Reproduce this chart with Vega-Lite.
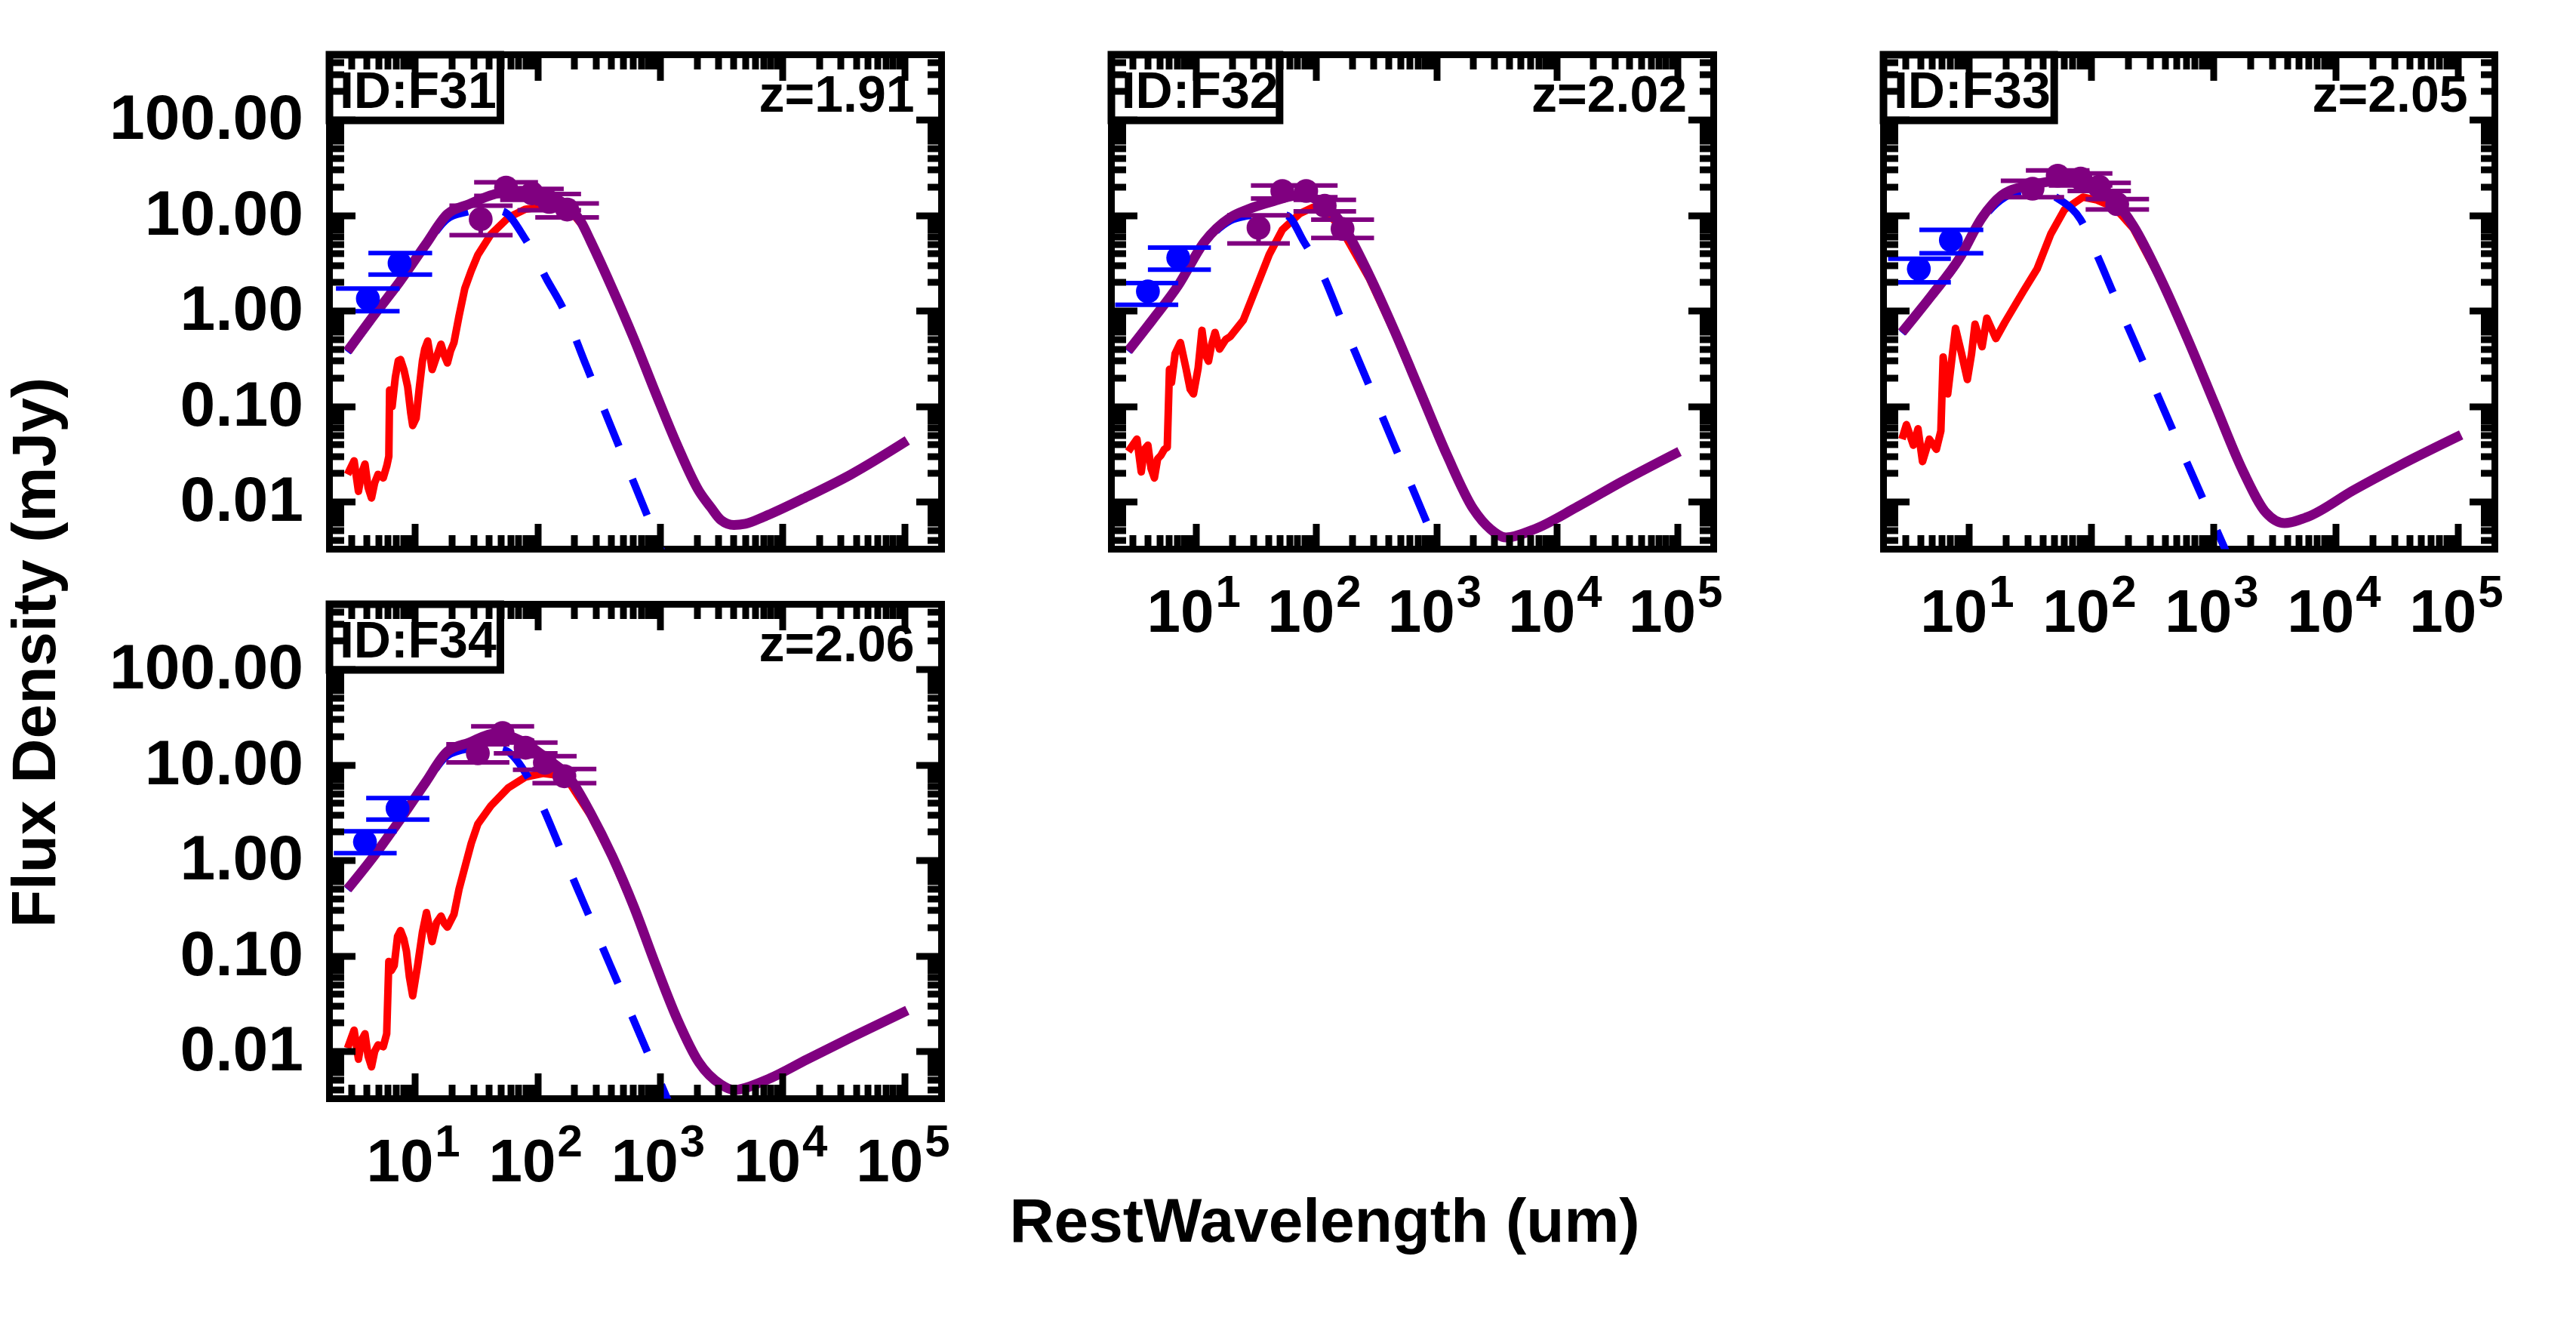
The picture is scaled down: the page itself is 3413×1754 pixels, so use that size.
{
"$schema": "https://vega.github.io/schema/vega-lite/v6.json",
"autosize": {"type": "none"},
"padding": {"left": 436.5, "top": 72.5, "right": 2976.5, "bottom": 1681.5},
"background": "white",
"config": {
  "view": {"stroke": "black", "strokeWidth": 9},
  "font": "Liberation Sans",
  "axis": {"labelFont": "Liberation Sans", "labelFontWeight": "bold", "labelColor": "black", "titleFont": "Liberation Sans", "titleFontWeight": "bold", "titleColor": "black", "tickColor": "black", "grid": false, "domain": false, "labelLimit": 0}
},
"datasets": {
"labels": [
 {"panel":"F31","id":"ID:F31","z":"z=1.91"},
 {"panel":"F32","id":"ID:F32","z":"z=2.02"},
 {"panel":"F33","id":"ID:F33","z":"z=2.05"},
 {"panel":"F34","id":"ID:F34","z":"z=2.06"}
],
"pts": [
 {"panel":"F31","band":"opt","lam":4.12,"flux":1.34,"lo":0.99,"hi":1.71,"xlo":2.26,"xhi":7.48},
 {"panel":"F31","band":"opt","lam":7.48,"flux":3.15,"lo":2.40,"hi":4.02,"xlo":4.16,"xhi":13.8},
 {"panel":"F31","band":"fir","lam":34.4,"flux":9.1,"lo":6.2,"hi":12.6,"xlo":19.1,"xhi":62.7},
 {"panel":"F31","band":"fir","lam":55.4,"flux":19.5,"lo":16.0,"hi":22.2,"xlo":30.4,"xhi":101},
 {"panel":"F31","band":"fir","lam":90.3,"flux":17.0,"lo":14.5,"hi":18.9,"xlo":49.6,"xhi":164},
 {"panel":"F31","band":"fir","lam":125,"flux":13.8,"lo":11.3,"hi":16.7,"xlo":68.7,"xhi":227},
 {"panel":"F31","band":"fir","lam":175,"flux":11.5,"lo":9.5,"hi":13.3,"xlo":96,"xhi":318},
 {"panel":"F32","band":"opt","lam":4.02,"flux":1.6,"lo":1.16,"hi":1.95,"xlo":2.15,"xhi":7.18},
 {"panel":"F32","band":"opt","lam":7.18,"flux":3.59,"lo":2.70,"hi":4.60,"xlo":4.02,"xhi":13.4},
 {"panel":"F32","band":"fir","lam":33.3,"flux":7.4,"lo":5.07,"hi":10.0,"xlo":18.3,"xhi":60.6},
 {"panel":"F32","band":"fir","lam":52.5,"flux":18.0,"lo":15.0,"hi":20.5,"xlo":28.8,"xhi":95.5},
 {"panel":"F32","band":"fir","lam":82.8,"flux":18.0,"lo":15.5,"hi":20.5,"xlo":45.5,"xhi":151},
 {"panel":"F32","band":"fir","lam":118,"flux":12.6,"lo":11.0,"hi":14.5,"xlo":65,"xhi":215},
 {"panel":"F32","band":"fir","lam":166,"flux":7.2,"lo":5.8,"hi":9.0,"xlo":91,"xhi":303},
 {"panel":"F33","band":"opt","lam":3.89,"flux":2.75,"lo":1.99,"hi":3.52,"xlo":2.18,"xhi":7.11},
 {"panel":"F33","band":"opt","lam":7.11,"flux":5.5,"lo":4.01,"hi":7.05,"xlo":3.93,"xhi":13.1},
 {"panel":"F33","band":"fir","lam":33.1,"flux":19.0,"lo":15.5,"hi":23.0,"xlo":18.2,"xhi":60},
 {"panel":"F33","band":"fir","lam":53.2,"flux":26.0,"lo":22.0,"hi":29.5,"xlo":29.2,"xhi":96.8},
 {"panel":"F33","band":"fir","lam":81.8,"flux":24.3,"lo":20.5,"hi":27.5,"xlo":45,"xhi":149},
 {"panel":"F33","band":"fir","lam":116,"flux":19.9,"lo":18.0,"hi":21.9,"xlo":64,"xhi":211},
 {"panel":"F33","band":"fir","lam":163,"flux":13.1,"lo":11.5,"hi":14.8,"xlo":90,"xhi":297},
 {"panel":"F34","band":"opt","lam":3.9,"flux":1.56,"lo":1.19,"hi":2.02,"xlo":2.17,"xhi":7.08},
 {"panel":"F34","band":"opt","lam":7.2,"flux":3.5,"lo":2.67,"hi":4.5,"xlo":3.99,"xhi":13.1},
 {"panel":"F34","band":"fir","lam":32.6,"flux":13.2,"lo":10.6,"hi":16.4,"xlo":18,"xhi":59},
 {"panel":"F34","band":"fir","lam":51.9,"flux":21.5,"lo":18.0,"hi":25.3,"xlo":28.7,"xhi":94},
 {"panel":"F34","band":"fir","lam":80,"flux":15.1,"lo":13.2,"hi":17.1,"xlo":44,"xhi":146},
 {"panel":"F34","band":"fir","lam":115,"flux":10.5,"lo":8.9,"hi":12.3,"xlo":63,"xhi":209},
 {"panel":"F34","band":"fir","lam":166,"flux":7.6,"lo":6.44,"hi":9.06,"xlo":91,"xhi":303}
],
"curves": [
 {"panel":"F31","comp":"tot","lam":2.81,"flux":0.378},{"panel":"F31","comp":"tot","lam":4.59,"flux":0.89},{"panel":"F31","comp":"tot","lam":7.48,"flux":2.01},{"panel":"F31","comp":"tot","lam":12.2,"flux":4.93},{"panel":"F31","comp":"tot","lam":18.4,"flux":10.3},{"panel":"F31","comp":"tot","lam":27.7,"flux":13.1},{"panel":"F31","comp":"tot","lam":45.1,"flux":16.7},{"panel":"F31","comp":"tot","lam":73.6,"flux":18.1},{"panel":"F31","comp":"tot","lam":120,"flux":16.1},{"panel":"F31","comp":"tot","lam":181,"flux":12.1},{"panel":"F31","comp":"tot","lam":230,"flux":8.3},{"panel":"F31","comp":"tot","lam":272,"flux":5.35},{"panel":"F31","comp":"tot","lam":409,"flux":1.71},{"panel":"F31","comp":"tot","lam":615,"flux":0.507},{"panel":"F31","comp":"tot","lam":925,"flux":0.137},{"panel":"F31","comp":"tot","lam":1390,"flux":0.0388},{"panel":"F31","comp":"tot","lam":2094,"flux":0.0129},{"panel":"F31","comp":"tot","lam":2600,"flux":0.0088},{"panel":"F31","comp":"tot","lam":3148,"flux":0.00647},{"panel":"F31","comp":"tot","lam":4022,"flux":0.00573},{"panel":"F31","comp":"tot","lam":5000,"flux":0.0059},{"panel":"F31","comp":"tot","lam":7110,"flux":0.0070},{"panel":"F31","comp":"tot","lam":16100,"flux":0.0114},{"panel":"F31","comp":"tot","lam":36500,"flux":0.0194},{"panel":"F31","comp":"tot","lam":105000,"flux":0.0439},
 {"panel":"F31","comp":"agn","lam":2.81,"flux":0.37},{"panel":"F31","comp":"agn","lam":4.59,"flux":0.86},{"panel":"F31","comp":"agn","lam":7.48,"flux":1.96},{"panel":"F31","comp":"agn","lam":12.2,"flux":4.75},{"panel":"F31","comp":"agn","lam":18.4,"flux":9.2},{"panel":"F31","comp":"agn","lam":25.5,"flux":10.7},{"panel":"F31","comp":"agn","lam":35,"flux":11.5},{"panel":"F31","comp":"agn","lam":51,"flux":11.1},{"panel":"F31","comp":"agn","lam":80,"flux":5.57},{"panel":"F31","comp":"agn","lam":120,"flux":2.1},{"panel":"F31","comp":"agn","lam":160,"flux":1.09},{"panel":"F31","comp":"agn","lam":251,"flux":0.264},{"panel":"F31","comp":"agn","lam":398,"flux":0.0618},{"panel":"F31","comp":"agn","lam":631,"flux":0.0145},{"panel":"F31","comp":"agn","lam":1000,"flux":0.0034},{"panel":"F31","comp":"agn","lam":1585,"flux":0.00079},
 {"panel":"F31","comp":"sb","lam":2.81,"flux":0.0194},{"panel":"F31","comp":"sb","lam":3.18,"flux":0.0269},{"panel":"F31","comp":"sb","lam":3.45,"flux":0.0129},{"panel":"F31","comp":"sb","lam":3.67,"flux":0.020},{"panel":"F31","comp":"sb","lam":3.90,"flux":0.0249},{"panel":"F31","comp":"sb","lam":4.14,"flux":0.0141},{"panel":"F31","comp":"sb","lam":4.41,"flux":0.011},{"panel":"F31","comp":"sb","lam":4.68,"flux":0.0158},{"panel":"F31","comp":"sb","lam":4.99,"flux":0.0194},{"panel":"F31","comp":"sb","lam":5.50,"flux":0.0178},{"panel":"F31","comp":"sb","lam":5.89,"flux":0.024},{"panel":"F31","comp":"sb","lam":6.11,"flux":0.03},{"panel":"F31","comp":"sb","lam":6.2,"flux":0.148},{"panel":"F31","comp":"sb","lam":6.5,"flux":0.1},{"panel":"F31","comp":"sb","lam":6.9,"flux":0.2},{"panel":"F31","comp":"sb","lam":7.3,"flux":0.3},{"panel":"F31","comp":"sb","lam":7.62,"flux":0.309},{"panel":"F31","comp":"sb","lam":8.13,"flux":0.24},{"panel":"F31","comp":"sb","lam":8.71,"flux":0.16},{"panel":"F31","comp":"sb","lam":9.23,"flux":0.085},{"panel":"F31","comp":"sb","lam":9.57,"flux":0.063},{"panel":"F31","comp":"sb","lam":10.2,"flux":0.075},{"panel":"F31","comp":"sb","lam":10.8,"flux":0.15},{"panel":"F31","comp":"sb","lam":11.5,"flux":0.3},{"panel":"F31","comp":"sb","lam":12.0,"flux":0.398},{"panel":"F31","comp":"sb","lam":12.7,"flux":0.484},{"panel":"F31","comp":"sb","lam":13.2,"flux":0.355},{"panel":"F31","comp":"sb","lam":13.8,"flux":0.243},{"panel":"F31","comp":"sb","lam":14.8,"flux":0.316},{"panel":"F31","comp":"sb","lam":16.3,"flux":0.447},{"panel":"F31","comp":"sb","lam":17.4,"flux":0.339},{"panel":"F31","comp":"sb","lam":18.4,"flux":0.285},{"panel":"F31","comp":"sb","lam":19.5,"flux":0.38},{"panel":"F31","comp":"sb","lam":20.8,"flux":0.466},{"panel":"F31","comp":"sb","lam":22.9,"flux":0.89},{"panel":"F31","comp":"sb","lam":25.5,"flux":1.71},{"panel":"F31","comp":"sb","lam":28.8,"flux":2.63},{"panel":"F31","comp":"sb","lam":32.6,"flux":3.86},{"panel":"F31","comp":"sb","lam":41.6,"flux":6.3},{"panel":"F31","comp":"sb","lam":57.7,"flux":9.46},{"panel":"F31","comp":"sb","lam":80,"flux":11.6},{"panel":"F31","comp":"sb","lam":102,"flux":12.1},{"panel":"F31","comp":"sb","lam":126,"flux":12.0},{"panel":"F31","comp":"sb","lam":158,"flux":11.9},{"panel":"F31","comp":"sb","lam":181,"flux":11.6},{"panel":"F31","comp":"sb","lam":230,"flux":8.0},{"panel":"F31","comp":"sb","lam":272,"flux":5.2},{"panel":"F31","comp":"sb","lam":409,"flux":1.67},{"panel":"F31","comp":"sb","lam":615,"flux":0.495},{"panel":"F31","comp":"sb","lam":925,"flux":0.133},

 {"panel":"F32","comp":"tot","lam":2.76,"flux":0.381},{"panel":"F32","comp":"tot","lam":4.36,"flux":0.798},{"panel":"F32","comp":"tot","lam":7.18,"flux":1.85},{"panel":"F32","comp":"tot","lam":11.8,"flux":5.24},{"panel":"F32","comp":"tot","lam":19.4,"flux":9.48},{"panel":"F32","comp":"tot","lam":27.0,"flux":11.5},{"panel":"F32","comp":"tot","lam":44.5,"flux":14.1},{"panel":"F32","comp":"tot","lam":73.1,"flux":16.3},{"panel":"F32","comp":"tot","lam":120,"flux":12.7},{"panel":"F32","comp":"tot","lam":168,"flux":7.76},{"panel":"F32","comp":"tot","lam":276,"flux":2.37},{"panel":"F32","comp":"tot","lam":454,"flux":0.594},{"panel":"F32","comp":"tot","lam":746,"flux":0.135},{"panel":"F32","comp":"tot","lam":1227,"flux":0.0306},{"panel":"F32","comp":"tot","lam":2018,"flux":0.00847},{"panel":"F32","comp":"tot","lam":2818,"flux":0.00516},{"panel":"F32","comp":"tot","lam":3770,"flux":0.00424},{"panel":"F32","comp":"tot","lam":6460,"flux":0.00516},{"panel":"F32","comp":"tot","lam":14800,"flux":0.0089},{"panel":"F32","comp":"tot","lam":34000,"flux":0.0161},{"panel":"F32","comp":"tot","lam":104000,"flux":0.0337},
 {"panel":"F32","comp":"agn","lam":2.76,"flux":0.375},{"panel":"F32","comp":"agn","lam":4.36,"flux":0.785},{"panel":"F32","comp":"agn","lam":7.18,"flux":1.8},{"panel":"F32","comp":"agn","lam":11.8,"flux":5.0},{"panel":"F32","comp":"agn","lam":19.4,"flux":8.8},{"panel":"F32","comp":"agn","lam":27,"flux":9.9},{"panel":"F32","comp":"agn","lam":40,"flux":10.4},{"panel":"F32","comp":"agn","lam":57.1,"flux":9.95},{"panel":"F32","comp":"agn","lam":79.6,"flux":5.24},{"panel":"F32","comp":"agn","lam":116,"flux":2.26},{"panel":"F32","comp":"agn","lam":158,"flux":0.877},{"panel":"F32","comp":"agn","lam":251,"flux":0.22},{"panel":"F32","comp":"agn","lam":398,"flux":0.0553},{"panel":"F32","comp":"agn","lam":631,"flux":0.0139},{"panel":"F32","comp":"agn","lam":1000,"flux":0.00349},{"panel":"F32","comp":"agn","lam":1585,"flux":0.00088},
 {"panel":"F32","comp":"sb","lam":2.76,"flux":0.0337},{"panel":"F32","comp":"sb","lam":3.26,"flux":0.0454},{"panel":"F32","comp":"sb","lam":3.54,"flux":0.0206},{"panel":"F32","comp":"sb","lam":3.76,"flux":0.0355},{"panel":"F32","comp":"sb","lam":4.02,"flux":0.0392},{"panel":"F32","comp":"sb","lam":4.27,"flux":0.0224},{"panel":"F32","comp":"sb","lam":4.55,"flux":0.0178},{"panel":"F32","comp":"sb","lam":4.84,"flux":0.0282},{"panel":"F32","comp":"sb","lam":5.15,"flux":0.0306},{"panel":"F32","comp":"sb","lam":5.50,"flux":0.0355},{"panel":"F32","comp":"sb","lam":5.82,"flux":0.0373},{"panel":"F32","comp":"sb","lam":6.07,"flux":0.244},{"panel":"F32","comp":"sb","lam":6.31,"flux":0.178},{"panel":"F32","comp":"sb","lam":6.76,"flux":0.355},{"panel":"F32","comp":"sb","lam":7.48,"flux":0.465},{"panel":"F32","comp":"sb","lam":8.32,"flux":0.251},{"panel":"F32","comp":"sb","lam":9.02,"flux":0.151},{"panel":"F32","comp":"sb","lam":9.6,"flux":0.135},{"panel":"F32","comp":"sb","lam":10.5,"flux":0.251},{"panel":"F32","comp":"sb","lam":11.3,"flux":0.625},{"panel":"F32","comp":"sb","lam":12.0,"flux":0.355},{"panel":"F32","comp":"sb","lam":12.8,"flux":0.297},{"panel":"F32","comp":"sb","lam":13.6,"flux":0.447},{"panel":"F32","comp":"sb","lam":14.5,"flux":0.594},{"panel":"F32","comp":"sb","lam":15.8,"flux":0.398},{"panel":"F32","comp":"sb","lam":17.8,"flux":0.501},{"panel":"F32","comp":"sb","lam":19.4,"flux":0.538},{"panel":"F32","comp":"sb","lam":24.9,"flux":0.798},{"panel":"F32","comp":"sb","lam":31.9,"flux":1.76},{"panel":"F32","comp":"sb","lam":40.9,"flux":3.89},{"panel":"F32","comp":"sb","lam":52.5,"flux":7.05},{"panel":"F32","comp":"sb","lam":73.1,"flux":10.4},{"panel":"F32","comp":"sb","lam":94,"flux":12.1},{"panel":"F32","comp":"sb","lam":120,"flux":11.2},{"panel":"F32","comp":"sb","lam":158,"flux":7.6},{"panel":"F32","comp":"sb","lam":276,"flux":2.2},{"panel":"F32","comp":"sb","lam":454,"flux":0.57},{"panel":"F32","comp":"sb","lam":746,"flux":0.13},

 {"panel":"F33","comp":"tot","lam":2.83,"flux":0.594},{"panel":"F33","comp":"tot","lam":4.95,"flux":1.45},{"panel":"F33","comp":"tot","lam":8.32,"flux":3.52},{"panel":"F33","comp":"tot","lam":12.8,"flux":9.48},{"panel":"F33","comp":"tot","lam":19.7,"flux":17.1},{"panel":"F33","comp":"tot","lam":33.1,"flux":20.9},{"panel":"F33","comp":"tot","lam":55.5,"flux":23.0},{"panel":"F33","comp":"tot","lam":93.1,"flux":20.9},{"panel":"F33","comp":"tot","lam":156,"flux":14.1},{"panel":"F33","comp":"tot","lam":221,"flux":7.76},{"panel":"F33","comp":"tot","lam":371,"flux":2.15},{"panel":"F33","comp":"tot","lam":622,"flux":0.488},{"panel":"F33","comp":"tot","lam":1042,"flux":0.1},{"panel":"F33","comp":"tot","lam":1754,"flux":0.0206},{"panel":"F33","comp":"tot","lam":2698,"flux":0.00767},{"panel":"F33","comp":"tot","lam":3810,"flux":0.006},{"panel":"F33","comp":"tot","lam":5860,"flux":0.00695},{"panel":"F33","comp":"tot","lam":13900,"flux":0.0132},{"panel":"F33","comp":"tot","lam":33000,"flux":0.0239},{"panel":"F33","comp":"tot","lam":106000,"flux":0.0502},
 {"panel":"F33","comp":"agn","lam":2.83,"flux":0.585},{"panel":"F33","comp":"agn","lam":4.95,"flux":1.43},{"panel":"F33","comp":"agn","lam":8.32,"flux":3.4},{"panel":"F33","comp":"agn","lam":12.8,"flux":9.0},{"panel":"F33","comp":"agn","lam":19.7,"flux":15.5},{"panel":"F33","comp":"agn","lam":28,"flux":17.8},{"panel":"F33","comp":"agn","lam":40,"flux":17.5},{"panel":"F33","comp":"agn","lam":55.5,"flux":14.5},{"panel":"F33","comp":"agn","lam":81.8,"flux":9.02},{"panel":"F33","comp":"agn","lam":111,"flux":3.89},{"panel":"F33","comp":"agn","lam":158,"flux":1.35},{"panel":"F33","comp":"agn","lam":251,"flux":0.347},{"panel":"F33","comp":"agn","lam":398,"flux":0.0891},{"panel":"F33","comp":"agn","lam":631,"flux":0.0229},{"panel":"F33","comp":"agn","lam":1000,"flux":0.00603},{"panel":"F33","comp":"agn","lam":1585,"flux":0.00158},
 {"panel":"F33","comp":"sb","lam":2.83,"flux":0.0454},{"panel":"F33","comp":"sb","lam":3.08,"flux":0.0643},{"panel":"F33","comp":"sb","lam":3.51,"flux":0.0392},{"panel":"F33","comp":"sb","lam":3.83,"flux":0.0582},{"panel":"F33","comp":"sb","lam":4.17,"flux":0.0264},{"panel":"F33","comp":"sb","lam":4.74,"flux":0.0454},{"panel":"F33","comp":"sb","lam":5.41,"flux":0.0355},{"panel":"F33","comp":"sb","lam":5.89,"flux":0.0553},{"panel":"F33","comp":"sb","lam":6.15,"flux":0.329},{"panel":"F33","comp":"sb","lam":6.70,"flux":0.135},{"panel":"F33","comp":"sb","lam":7.76,"flux":0.656},{"panel":"F33","comp":"sb","lam":8.71,"flux":0.355},{"panel":"F33","comp":"sb","lam":9.7,"flux":0.191},{"panel":"F33","comp":"sb","lam":10.5,"flux":0.355},{"panel":"F33","comp":"sb","lam":11.2,"flux":0.724},{"panel":"F33","comp":"sb","lam":12.8,"flux":0.421},{"panel":"F33","comp":"sb","lam":14.0,"flux":0.839},{"panel":"F33","comp":"sb","lam":16.6,"flux":0.513},{"panel":"F33","comp":"sb","lam":19.7,"flux":0.762},{"panel":"F33","comp":"sb","lam":27.8,"flux":1.6},{"panel":"F33","comp":"sb","lam":36.1,"flux":2.75},{"panel":"F33","comp":"sb","lam":46.7,"flux":6.37},{"panel":"F33","comp":"sb","lam":60.5,"flux":11.5},{"panel":"F33","comp":"sb","lam":85.5,"flux":15.5},{"panel":"F33","comp":"sb","lam":111,"flux":14.5},{"panel":"F33","comp":"sb","lam":156,"flux":12.0},{"panel":"F33","comp":"sb","lam":221,"flux":7.3},{"panel":"F33","comp":"sb","lam":371,"flux":2.1},{"panel":"F33","comp":"sb","lam":622,"flux":0.48},{"panel":"F33","comp":"sb","lam":1042,"flux":0.098},

 {"panel":"F34","comp":"tot","lam":2.81,"flux":0.5},{"panel":"F34","comp":"tot","lam":4.59,"flux":1.10},{"panel":"F34","comp":"tot","lam":7.48,"flux":2.62},{"panel":"F34","comp":"tot","lam":12.2,"flux":6.56},{"panel":"F34","comp":"tot","lam":18.4,"flux":13.8},{"panel":"F34","comp":"tot","lam":27.7,"flux":17.1},{"panel":"F34","comp":"tot","lam":45.1,"flux":21.3},{"panel":"F34","comp":"tot","lam":73.6,"flux":17.9},{"panel":"F34","comp":"tot","lam":120,"flux":11.6},{"panel":"F34","comp":"tot","lam":181,"flux":7.46},{"panel":"F34","comp":"tot","lam":272,"flux":3.12},{"panel":"F34","comp":"tot","lam":409,"flux":1.10},{"panel":"F34","comp":"tot","lam":615,"flux":0.324},{"panel":"F34","comp":"tot","lam":925,"flux":0.0802},{"panel":"F34","comp":"tot","lam":1390,"flux":0.0216},{"panel":"F34","comp":"tot","lam":2094,"flux":0.0076},{"panel":"F34","comp":"tot","lam":3148,"flux":0.00451},{"panel":"F34","comp":"tot","lam":4020,"flux":0.00395},{"panel":"F34","comp":"tot","lam":7110,"flux":0.00492},{"panel":"F34","comp":"tot","lam":16100,"flux":0.0083},{"panel":"F34","comp":"tot","lam":36500,"flux":0.014},{"panel":"F34","comp":"tot","lam":105000,"flux":0.0269},
 {"panel":"F34","comp":"agn","lam":2.81,"flux":0.495},{"panel":"F34","comp":"agn","lam":4.59,"flux":1.08},{"panel":"F34","comp":"agn","lam":7.48,"flux":2.55},{"panel":"F34","comp":"agn","lam":12.2,"flux":6.3},{"panel":"F34","comp":"agn","lam":18.4,"flux":12.5},{"panel":"F34","comp":"agn","lam":27.7,"flux":14.8},{"panel":"F34","comp":"agn","lam":38,"flux":15.3},{"panel":"F34","comp":"agn","lam":53.2,"flux":14.4},{"panel":"F34","comp":"agn","lam":83.6,"flux":7.46},{"panel":"F34","comp":"agn","lam":111,"flux":3.56},{"panel":"F34","comp":"agn","lam":158,"flux":1.22},{"panel":"F34","comp":"agn","lam":251,"flux":0.306},{"panel":"F34","comp":"agn","lam":398,"flux":0.0769},{"panel":"F34","comp":"agn","lam":631,"flux":0.0193},{"panel":"F34","comp":"agn","lam":1000,"flux":0.00485},{"panel":"F34","comp":"agn","lam":1585,"flux":0.00122},
 {"panel":"F34","comp":"sb","lam":2.81,"flux":0.0108},{"panel":"F34","comp":"sb","lam":3.18,"flux":0.0167},{"panel":"F34","comp":"sb","lam":3.45,"flux":0.0083},{"panel":"F34","comp":"sb","lam":3.67,"flux":0.0132},{"panel":"F34","comp":"sb","lam":3.90,"flux":0.0153},{"panel":"F34","comp":"sb","lam":4.14,"flux":0.0089},{"panel":"F34","comp":"sb","lam":4.41,"flux":0.0069},{"panel":"F34","comp":"sb","lam":4.68,"flux":0.01},{"panel":"F34","comp":"sb","lam":4.99,"flux":0.0117},{"panel":"F34","comp":"sb","lam":5.50,"flux":0.0112},{"panel":"F34","comp":"sb","lam":5.87,"flux":0.0153},{"panel":"F34","comp":"sb","lam":6.11,"flux":0.0875},{"panel":"F34","comp":"sb","lam":6.4,"flux":0.07},{"panel":"F34","comp":"sb","lam":6.76,"flux":0.0794},{"panel":"F34","comp":"sb","lam":7.2,"flux":0.16},{"panel":"F34","comp":"sb","lam":7.62,"flux":0.184},{"panel":"F34","comp":"sb","lam":8.1,"flux":0.15},{"panel":"F34","comp":"sb","lam":8.51,"flux":0.112},{"panel":"F34","comp":"sb","lam":9.0,"flux":0.06},{"panel":"F34","comp":"sb","lam":9.57,"flux":0.0382},{"panel":"F34","comp":"sb","lam":10.5,"flux":0.0794},{"panel":"F34","comp":"sb","lam":11.5,"flux":0.178},{"panel":"F34","comp":"sb","lam":12.4,"flux":0.284},{"panel":"F34","comp":"sb","lam":13.1,"flux":0.2},{"panel":"F34","comp":"sb","lam":13.8,"flux":0.141},{"panel":"F34","comp":"sb","lam":15.0,"flux":0.224},{"panel":"F34","comp":"sb","lam":16.3,"flux":0.261},{"panel":"F34","comp":"sb","lam":17.3,"flux":0.22},{"panel":"F34","comp":"sb","lam":18.4,"flux":0.2},{"panel":"F34","comp":"sb","lam":20.8,"flux":0.272},{"panel":"F34","comp":"sb","lam":22.9,"flux":0.501},{"panel":"F34","comp":"sb","lam":25.5,"flux":0.843},{"panel":"F34","comp":"sb","lam":28.8,"flux":1.51},{"panel":"F34","comp":"sb","lam":32.6,"flux":2.4},{"panel":"F34","comp":"sb","lam":41.6,"flux":3.72},{"panel":"F34","comp":"sb","lam":57.7,"flux":5.75},{"panel":"F34","comp":"sb","lam":80,"flux":7.46},{"panel":"F34","comp":"sb","lam":111,"flux":8.15},{"panel":"F34","comp":"sb","lam":142,"flux":7.8},{"panel":"F34","comp":"sb","lam":181,"flux":6.6},{"panel":"F34","comp":"sb","lam":272,"flux":2.95},{"panel":"F34","comp":"sb","lam":409,"flux":1.06},{"panel":"F34","comp":"sb","lam":615,"flux":0.315},{"panel":"F34","comp":"sb","lam":925,"flux":0.078}
]
},
"columns": 3,
"spacing": {"row": 73, "column": 225},
"bounds": "flush",
"align": "each",
"concat": [
{
 "width": 811, "height": 655,
 "resolve": {"axis": {"x": "independent", "y": "independent"}},
 "layer": [
  {"data":{"name":"labels"},"transform":[{"filter":"datum.panel=='F31'"}],"mark":{"type":"rect","fill":"white","stroke":"black","strokeWidth":10},"encoding":{"x":{"datum":2,"type":"quantitative","scale":{"type":"log","domain":[2,200000],"nice":false},"axis":null},"x2":{"datum":49.8},"y":{"datum":98.4,"type":"quantitative","scale":{"type":"log","domain":[0.0032,480],"nice":false},"axis":null},"y2":{"datum":480}}},
  {"data":{"name":"curves"},"transform":[{"filter":"datum.panel=='F31' && datum.comp=='sb'"}],"mark":{"type":"line","color":"#ff0000","strokeWidth":10,"clip":true,"strokeJoin":"round"},"encoding":{"x":{"field":"lam","type":"quantitative","scale":{"type":"log","domain":[2,200000],"nice":false},"axis":null},"y":{"field":"flux","type":"quantitative","scale":{"type":"log","domain":[0.0032,480],"nice":false},"axis":{"orient":"left","values":[0.01,0.1,1,10,100],"format":".2f","ticks":false,"domain":false,"grid":false,"labelFontSize":84,"labelLimit":0,"labelPadding":35,"labelAlign":"right","labelBaseline":"middle","labelFlush":false,"labelOverlap":false,"title":"Flux Density (mJy)","titleFontSize":82,"titleAngle":270,"titleX":-364,"titleY":791.5,"titleAlign":"center","titleBaseline":"alphabetic"}}}},
  {"data":{"name":"curves"},"transform":[{"filter":"datum.panel=='F31' && datum.comp=='agn'"}],"mark":{"type":"line","color":"#0000ff","strokeWidth":10,"strokeDash":[52,47],"clip":true,"interpolate":"monotone"},"encoding":{"x":{"field":"lam","type":"quantitative","scale":{"type":"log","domain":[2,200000],"nice":false},"axis":null},"y":{"field":"flux","type":"quantitative","scale":{"type":"log","domain":[0.0032,480],"nice":false},"axis":{"orient":"left","values":[0.01,0.1,1,10,100],"labels":false,"domain":false,"grid":false,"tickSize":-34,"tickWidth":9,"tickColor":"black","zindex":1,"title":null}}}},
  {"data":{"name":"curves"},"transform":[{"filter":"datum.panel=='F31' && datum.comp=='tot'"}],"mark":{"type":"line","color":"#800080","strokeWidth":13,"clip":true,"strokeJoin":"round","interpolate":"monotone"},"encoding":{"x":{"field":"lam","type":"quantitative","scale":{"type":"log","domain":[2,200000],"nice":false},"axis":{"orient":"bottom","values":[10,100,1000,10000,100000],"labels":false,"domain":false,"grid":false,"tickSize":-34,"tickWidth":9,"tickColor":"black","zindex":1,"title":null}},"y":{"field":"flux","type":"quantitative","scale":{"type":"log","domain":[0.0032,480],"nice":false},"axis":{"orient":"left","values":[0.004,0.005,0.006,0.007,0.008,0.009,0.02,0.03,0.04,0.05,0.06,0.07,0.08,0.09,0.2,0.3,0.4,0.5,0.6,0.7,0.8,0.9,2,3,4,5,6,7,8,9,20,30,40,50,60,70,80,90,200,300,400],"labels":false,"domain":false,"grid":false,"tickSize":-19,"tickWidth":9,"tickColor":"black","zindex":1,"title":null}}}},
  {"data":{"name":"pts"},"transform":[{"filter":"datum.panel=='F31'"}],"mark":{"type":"rule","strokeWidth":6},"encoding":{"x":{"field":"lam","type":"quantitative","scale":{"type":"log","domain":[2,200000],"nice":false},"axis":{"orient":"bottom","values":[3,4,5,6,7,8,9,20,30,40,50,60,70,80,90,200,300,400,500,600,700,800,900,2000,3000,4000,5000,6000,7000,8000,9000,20000,30000,40000,50000,60000,70000,80000,90000],"labels":false,"domain":false,"grid":false,"tickSize":-19,"tickWidth":9,"tickColor":"black","zindex":1,"title":null}},"y":{"field":"lo","type":"quantitative","scale":{"type":"log","domain":[0.0032,480],"nice":false},"axis":{"orient":"right","values":[0.01,0.1,1,10,100],"labels":false,"domain":false,"grid":false,"tickSize":-34,"tickWidth":9,"tickColor":"black","zindex":1,"title":null}},"y2":{"field":"hi"},"color":{"field":"band","type":"nominal","scale":{"domain":["opt","fir"],"range":["#0000ff","#800080"]},"legend":null}}},
  {"data":{"name":"pts"},"transform":[{"filter":"datum.panel=='F31'"}],"mark":{"type":"rule","strokeWidth":6},"encoding":{"x":{"field":"xlo","type":"quantitative","scale":{"type":"log","domain":[2,200000],"nice":false},"axis":{"orient":"top","values":[10,100,1000,10000,100000],"labels":false,"domain":false,"grid":false,"tickSize":-34,"tickWidth":9,"tickColor":"black","zindex":1,"title":null}},"x2":{"field":"xhi"},"y":{"field":"lo","type":"quantitative","scale":{"type":"log","domain":[0.0032,480],"nice":false},"axis":{"orient":"right","values":[0.004,0.005,0.006,0.007,0.008,0.009,0.02,0.03,0.04,0.05,0.06,0.07,0.08,0.09,0.2,0.3,0.4,0.5,0.6,0.7,0.8,0.9,2,3,4,5,6,7,8,9,20,30,40,50,60,70,80,90,200,300,400],"labels":false,"domain":false,"grid":false,"tickSize":-19,"tickWidth":9,"tickColor":"black","zindex":1,"title":null}},"color":{"field":"band","type":"nominal","scale":{"domain":["opt","fir"],"range":["#0000ff","#800080"]},"legend":null}}},
  {"data":{"name":"pts"},"transform":[{"filter":"datum.panel=='F31'"}],"mark":{"type":"rule","strokeWidth":6},"encoding":{"x":{"field":"xlo","type":"quantitative","scale":{"type":"log","domain":[2,200000],"nice":false},"axis":{"orient":"top","values":[3,4,5,6,7,8,9,20,30,40,50,60,70,80,90,200,300,400,500,600,700,800,900,2000,3000,4000,5000,6000,7000,8000,9000,20000,30000,40000,50000,60000,70000,80000,90000],"labels":false,"domain":false,"grid":false,"tickSize":-19,"tickWidth":9,"tickColor":"black","zindex":1,"title":null}},"x2":{"field":"xhi"},"y":{"field":"hi","type":"quantitative","scale":{"type":"log","domain":[0.0032,480],"nice":false},"axis":null},"color":{"field":"band","type":"nominal","scale":{"domain":["opt","fir"],"range":["#0000ff","#800080"]},"legend":null}}},
  {"data":{"name":"pts"},"transform":[{"filter":"datum.panel=='F31'"}],"mark":{"type":"point","filled":true,"shape":"circle","size":1000,"opacity":1},"encoding":{"x":{"field":"lam","type":"quantitative","scale":{"type":"log","domain":[2,200000],"nice":false},"axis":null},"y":{"field":"flux","type":"quantitative","scale":{"type":"log","domain":[0.0032,480],"nice":false},"axis":null},"color":{"field":"band","type":"nominal","scale":{"domain":["opt","fir"],"range":["#0000ff","#800080"]},"legend":null}}},
  {"data":{"name":"labels"},"transform":[{"filter":"datum.panel=='F31'"}],"mark":{"type":"text","font":"Liberation Sans","fontWeight":"bold","fontSize":68,"align":"left","baseline":"alphabetic","color":"black"},"encoding":{"x":{"datum":2.42,"type":"quantitative","scale":{"type":"log","domain":[2,200000],"nice":false},"axis":null},"y":{"datum":133,"type":"quantitative","scale":{"type":"log","domain":[0.0032,480],"nice":false},"axis":null},"text":{"field":"id","type":"nominal"}}},
  {"data":{"name":"labels"},"transform":[{"filter":"datum.panel=='F31'"}],"mark":{"type":"text","font":"Liberation Sans","fontWeight":"bold","fontSize":68,"align":"right","baseline":"alphabetic","color":"black"},"encoding":{"x":{"datum":120000,"type":"quantitative","scale":{"type":"log","domain":[2,200000],"nice":false},"axis":null},"y":{"datum":121,"type":"quantitative","scale":{"type":"log","domain":[0.0032,480],"nice":false},"axis":null},"text":{"field":"z","type":"nominal"}}}
 ]
},
{
 "width": 798, "height": 655,
 "resolve": {"axis": {"x": "independent", "y": "independent"}},
 "layer": [
  {"data":{"name":"labels"},"transform":[{"filter":"datum.panel=='F32'"}],"mark":{"type":"rect","fill":"white","stroke":"black","strokeWidth":10},"encoding":{"x":{"datum":2,"type":"quantitative","scale":{"type":"log","domain":[2,200000],"nice":false},"axis":null},"x2":{"datum":49.8},"y":{"datum":98.4,"type":"quantitative","scale":{"type":"log","domain":[0.0032,480],"nice":false},"axis":null},"y2":{"datum":480}}},
  {"data":{"name":"curves"},"transform":[{"filter":"datum.panel=='F32' && datum.comp=='sb'"}],"mark":{"type":"line","color":"#ff0000","strokeWidth":10,"clip":true,"strokeJoin":"round"},"encoding":{"x":{"field":"lam","type":"quantitative","scale":{"type":"log","domain":[2,200000],"nice":false},"axis":{"orient":"bottom","values":[10,100,1000,10000,100000],"ticks":false,"domain":false,"grid":false,"labelExpr":"'10'","labelFontSize":80,"labelAlign":"right","labelOffset":24,"labelBaseline":"alphabetic","labelPadding":109,"labelFlush":false,"labelOverlap":false,"title":null}},"y":{"field":"flux","type":"quantitative","scale":{"type":"log","domain":[0.0032,480],"nice":false},"axis":null}}},
  {"data":{"name":"curves"},"transform":[{"filter":"datum.panel=='F32' && datum.comp=='agn'"}],"mark":{"type":"line","color":"#0000ff","strokeWidth":10,"strokeDash":[52,47],"clip":true,"interpolate":"monotone"},"encoding":{"x":{"field":"lam","type":"quantitative","scale":{"type":"log","domain":[2,200000],"nice":false},"axis":{"orient":"bottom","values":[10,100,1000,10000,100000],"ticks":false,"domain":false,"grid":false,"labelExpr":"format(log(datum.value)/LN10,'.0f')","labelFontSize":60,"labelAlign":"left","labelOffset":26,"labelBaseline":"alphabetic","labelPadding":76,"labelFlush":false,"labelOverlap":false,"title":null}},"y":{"field":"flux","type":"quantitative","scale":{"type":"log","domain":[0.0032,480],"nice":false},"axis":{"orient":"left","values":[0.01,0.1,1,10,100],"labels":false,"domain":false,"grid":false,"tickSize":-34,"tickWidth":9,"tickColor":"black","zindex":1,"title":null}}}},
  {"data":{"name":"curves"},"transform":[{"filter":"datum.panel=='F32' && datum.comp=='tot'"}],"mark":{"type":"line","color":"#800080","strokeWidth":13,"clip":true,"strokeJoin":"round","interpolate":"monotone"},"encoding":{"x":{"field":"lam","type":"quantitative","scale":{"type":"log","domain":[2,200000],"nice":false},"axis":{"orient":"bottom","values":[10,100,1000,10000,100000],"labels":false,"domain":false,"grid":false,"tickSize":-34,"tickWidth":9,"tickColor":"black","zindex":1,"title":null}},"y":{"field":"flux","type":"quantitative","scale":{"type":"log","domain":[0.0032,480],"nice":false},"axis":{"orient":"left","values":[0.004,0.005,0.006,0.007,0.008,0.009,0.02,0.03,0.04,0.05,0.06,0.07,0.08,0.09,0.2,0.3,0.4,0.5,0.6,0.7,0.8,0.9,2,3,4,5,6,7,8,9,20,30,40,50,60,70,80,90,200,300,400],"labels":false,"domain":false,"grid":false,"tickSize":-19,"tickWidth":9,"tickColor":"black","zindex":1,"title":null}}}},
  {"data":{"name":"pts"},"transform":[{"filter":"datum.panel=='F32'"}],"mark":{"type":"rule","strokeWidth":6},"encoding":{"x":{"field":"lam","type":"quantitative","scale":{"type":"log","domain":[2,200000],"nice":false},"axis":{"orient":"bottom","values":[3,4,5,6,7,8,9,20,30,40,50,60,70,80,90,200,300,400,500,600,700,800,900,2000,3000,4000,5000,6000,7000,8000,9000,20000,30000,40000,50000,60000,70000,80000,90000],"labels":false,"domain":false,"grid":false,"tickSize":-19,"tickWidth":9,"tickColor":"black","zindex":1,"title":null}},"y":{"field":"lo","type":"quantitative","scale":{"type":"log","domain":[0.0032,480],"nice":false},"axis":{"orient":"right","values":[0.01,0.1,1,10,100],"labels":false,"domain":false,"grid":false,"tickSize":-34,"tickWidth":9,"tickColor":"black","zindex":1,"title":null}},"y2":{"field":"hi"},"color":{"field":"band","type":"nominal","scale":{"domain":["opt","fir"],"range":["#0000ff","#800080"]},"legend":null}}},
  {"data":{"name":"pts"},"transform":[{"filter":"datum.panel=='F32'"}],"mark":{"type":"rule","strokeWidth":6},"encoding":{"x":{"field":"xlo","type":"quantitative","scale":{"type":"log","domain":[2,200000],"nice":false},"axis":{"orient":"top","values":[10,100,1000,10000,100000],"labels":false,"domain":false,"grid":false,"tickSize":-34,"tickWidth":9,"tickColor":"black","zindex":1,"title":null}},"x2":{"field":"xhi"},"y":{"field":"lo","type":"quantitative","scale":{"type":"log","domain":[0.0032,480],"nice":false},"axis":{"orient":"right","values":[0.004,0.005,0.006,0.007,0.008,0.009,0.02,0.03,0.04,0.05,0.06,0.07,0.08,0.09,0.2,0.3,0.4,0.5,0.6,0.7,0.8,0.9,2,3,4,5,6,7,8,9,20,30,40,50,60,70,80,90,200,300,400],"labels":false,"domain":false,"grid":false,"tickSize":-19,"tickWidth":9,"tickColor":"black","zindex":1,"title":null}},"color":{"field":"band","type":"nominal","scale":{"domain":["opt","fir"],"range":["#0000ff","#800080"]},"legend":null}}},
  {"data":{"name":"pts"},"transform":[{"filter":"datum.panel=='F32'"}],"mark":{"type":"rule","strokeWidth":6},"encoding":{"x":{"field":"xlo","type":"quantitative","scale":{"type":"log","domain":[2,200000],"nice":false},"axis":{"orient":"top","values":[3,4,5,6,7,8,9,20,30,40,50,60,70,80,90,200,300,400,500,600,700,800,900,2000,3000,4000,5000,6000,7000,8000,9000,20000,30000,40000,50000,60000,70000,80000,90000],"labels":false,"domain":false,"grid":false,"tickSize":-19,"tickWidth":9,"tickColor":"black","zindex":1,"title":null}},"x2":{"field":"xhi"},"y":{"field":"hi","type":"quantitative","scale":{"type":"log","domain":[0.0032,480],"nice":false},"axis":null},"color":{"field":"band","type":"nominal","scale":{"domain":["opt","fir"],"range":["#0000ff","#800080"]},"legend":null}}},
  {"data":{"name":"pts"},"transform":[{"filter":"datum.panel=='F32'"}],"mark":{"type":"point","filled":true,"shape":"circle","size":1000,"opacity":1},"encoding":{"x":{"field":"lam","type":"quantitative","scale":{"type":"log","domain":[2,200000],"nice":false},"axis":null},"y":{"field":"flux","type":"quantitative","scale":{"type":"log","domain":[0.0032,480],"nice":false},"axis":null},"color":{"field":"band","type":"nominal","scale":{"domain":["opt","fir"],"range":["#0000ff","#800080"]},"legend":null}}},
  {"data":{"name":"labels"},"transform":[{"filter":"datum.panel=='F32'"}],"mark":{"type":"text","font":"Liberation Sans","fontWeight":"bold","fontSize":68,"align":"left","baseline":"alphabetic","color":"black"},"encoding":{"x":{"datum":2.42,"type":"quantitative","scale":{"type":"log","domain":[2,200000],"nice":false},"axis":null},"y":{"datum":133,"type":"quantitative","scale":{"type":"log","domain":[0.0032,480],"nice":false},"axis":null},"text":{"field":"id","type":"nominal"}}},
  {"data":{"name":"labels"},"transform":[{"filter":"datum.panel=='F32'"}],"mark":{"type":"text","font":"Liberation Sans","fontWeight":"bold","fontSize":68,"align":"right","baseline":"alphabetic","color":"black"},"encoding":{"x":{"datum":120000,"type":"quantitative","scale":{"type":"log","domain":[2,200000],"nice":false},"axis":null},"y":{"datum":121,"type":"quantitative","scale":{"type":"log","domain":[0.0032,480],"nice":false},"axis":null},"text":{"field":"z","type":"nominal"}}}
 ]
},
{
 "width": 810, "height": 655,
 "resolve": {"axis": {"x": "independent", "y": "independent"}},
 "layer": [
  {"data":{"name":"labels"},"transform":[{"filter":"datum.panel=='F33'"}],"mark":{"type":"rect","fill":"white","stroke":"black","strokeWidth":10},"encoding":{"x":{"datum":2,"type":"quantitative","scale":{"type":"log","domain":[2,200000],"nice":false},"axis":null},"x2":{"datum":49.8},"y":{"datum":98.4,"type":"quantitative","scale":{"type":"log","domain":[0.0032,480],"nice":false},"axis":null},"y2":{"datum":480}}},
  {"data":{"name":"curves"},"transform":[{"filter":"datum.panel=='F33' && datum.comp=='sb'"}],"mark":{"type":"line","color":"#ff0000","strokeWidth":10,"clip":true,"strokeJoin":"round"},"encoding":{"x":{"field":"lam","type":"quantitative","scale":{"type":"log","domain":[2,200000],"nice":false},"axis":{"orient":"bottom","values":[10,100,1000,10000,100000],"ticks":false,"domain":false,"grid":false,"labelExpr":"'10'","labelFontSize":80,"labelAlign":"right","labelOffset":24,"labelBaseline":"alphabetic","labelPadding":109,"labelFlush":false,"labelOverlap":false,"title":null}},"y":{"field":"flux","type":"quantitative","scale":{"type":"log","domain":[0.0032,480],"nice":false},"axis":null}}},
  {"data":{"name":"curves"},"transform":[{"filter":"datum.panel=='F33' && datum.comp=='agn'"}],"mark":{"type":"line","color":"#0000ff","strokeWidth":10,"strokeDash":[52,47],"clip":true,"interpolate":"monotone"},"encoding":{"x":{"field":"lam","type":"quantitative","scale":{"type":"log","domain":[2,200000],"nice":false},"axis":{"orient":"bottom","values":[10,100,1000,10000,100000],"ticks":false,"domain":false,"grid":false,"labelExpr":"format(log(datum.value)/LN10,'.0f')","labelFontSize":60,"labelAlign":"left","labelOffset":26,"labelBaseline":"alphabetic","labelPadding":76,"labelFlush":false,"labelOverlap":false,"title":null}},"y":{"field":"flux","type":"quantitative","scale":{"type":"log","domain":[0.0032,480],"nice":false},"axis":{"orient":"left","values":[0.01,0.1,1,10,100],"labels":false,"domain":false,"grid":false,"tickSize":-34,"tickWidth":9,"tickColor":"black","zindex":1,"title":null}}}},
  {"data":{"name":"curves"},"transform":[{"filter":"datum.panel=='F33' && datum.comp=='tot'"}],"mark":{"type":"line","color":"#800080","strokeWidth":13,"clip":true,"strokeJoin":"round","interpolate":"monotone"},"encoding":{"x":{"field":"lam","type":"quantitative","scale":{"type":"log","domain":[2,200000],"nice":false},"axis":{"orient":"bottom","values":[10,100,1000,10000,100000],"labels":false,"domain":false,"grid":false,"tickSize":-34,"tickWidth":9,"tickColor":"black","zindex":1,"title":null}},"y":{"field":"flux","type":"quantitative","scale":{"type":"log","domain":[0.0032,480],"nice":false},"axis":{"orient":"left","values":[0.004,0.005,0.006,0.007,0.008,0.009,0.02,0.03,0.04,0.05,0.06,0.07,0.08,0.09,0.2,0.3,0.4,0.5,0.6,0.7,0.8,0.9,2,3,4,5,6,7,8,9,20,30,40,50,60,70,80,90,200,300,400],"labels":false,"domain":false,"grid":false,"tickSize":-19,"tickWidth":9,"tickColor":"black","zindex":1,"title":null}}}},
  {"data":{"name":"pts"},"transform":[{"filter":"datum.panel=='F33'"}],"mark":{"type":"rule","strokeWidth":6},"encoding":{"x":{"field":"lam","type":"quantitative","scale":{"type":"log","domain":[2,200000],"nice":false},"axis":{"orient":"bottom","values":[3,4,5,6,7,8,9,20,30,40,50,60,70,80,90,200,300,400,500,600,700,800,900,2000,3000,4000,5000,6000,7000,8000,9000,20000,30000,40000,50000,60000,70000,80000,90000],"labels":false,"domain":false,"grid":false,"tickSize":-19,"tickWidth":9,"tickColor":"black","zindex":1,"title":null}},"y":{"field":"lo","type":"quantitative","scale":{"type":"log","domain":[0.0032,480],"nice":false},"axis":{"orient":"right","values":[0.01,0.1,1,10,100],"labels":false,"domain":false,"grid":false,"tickSize":-34,"tickWidth":9,"tickColor":"black","zindex":1,"title":null}},"y2":{"field":"hi"},"color":{"field":"band","type":"nominal","scale":{"domain":["opt","fir"],"range":["#0000ff","#800080"]},"legend":null}}},
  {"data":{"name":"pts"},"transform":[{"filter":"datum.panel=='F33'"}],"mark":{"type":"rule","strokeWidth":6},"encoding":{"x":{"field":"xlo","type":"quantitative","scale":{"type":"log","domain":[2,200000],"nice":false},"axis":{"orient":"top","values":[10,100,1000,10000,100000],"labels":false,"domain":false,"grid":false,"tickSize":-34,"tickWidth":9,"tickColor":"black","zindex":1,"title":null}},"x2":{"field":"xhi"},"y":{"field":"lo","type":"quantitative","scale":{"type":"log","domain":[0.0032,480],"nice":false},"axis":{"orient":"right","values":[0.004,0.005,0.006,0.007,0.008,0.009,0.02,0.03,0.04,0.05,0.06,0.07,0.08,0.09,0.2,0.3,0.4,0.5,0.6,0.7,0.8,0.9,2,3,4,5,6,7,8,9,20,30,40,50,60,70,80,90,200,300,400],"labels":false,"domain":false,"grid":false,"tickSize":-19,"tickWidth":9,"tickColor":"black","zindex":1,"title":null}},"color":{"field":"band","type":"nominal","scale":{"domain":["opt","fir"],"range":["#0000ff","#800080"]},"legend":null}}},
  {"data":{"name":"pts"},"transform":[{"filter":"datum.panel=='F33'"}],"mark":{"type":"rule","strokeWidth":6},"encoding":{"x":{"field":"xlo","type":"quantitative","scale":{"type":"log","domain":[2,200000],"nice":false},"axis":{"orient":"top","values":[3,4,5,6,7,8,9,20,30,40,50,60,70,80,90,200,300,400,500,600,700,800,900,2000,3000,4000,5000,6000,7000,8000,9000,20000,30000,40000,50000,60000,70000,80000,90000],"labels":false,"domain":false,"grid":false,"tickSize":-19,"tickWidth":9,"tickColor":"black","zindex":1,"title":null}},"x2":{"field":"xhi"},"y":{"field":"hi","type":"quantitative","scale":{"type":"log","domain":[0.0032,480],"nice":false},"axis":null},"color":{"field":"band","type":"nominal","scale":{"domain":["opt","fir"],"range":["#0000ff","#800080"]},"legend":null}}},
  {"data":{"name":"pts"},"transform":[{"filter":"datum.panel=='F33'"}],"mark":{"type":"point","filled":true,"shape":"circle","size":1000,"opacity":1},"encoding":{"x":{"field":"lam","type":"quantitative","scale":{"type":"log","domain":[2,200000],"nice":false},"axis":null},"y":{"field":"flux","type":"quantitative","scale":{"type":"log","domain":[0.0032,480],"nice":false},"axis":null},"color":{"field":"band","type":"nominal","scale":{"domain":["opt","fir"],"range":["#0000ff","#800080"]},"legend":null}}},
  {"data":{"name":"labels"},"transform":[{"filter":"datum.panel=='F33'"}],"mark":{"type":"text","font":"Liberation Sans","fontWeight":"bold","fontSize":68,"align":"left","baseline":"alphabetic","color":"black"},"encoding":{"x":{"datum":2.42,"type":"quantitative","scale":{"type":"log","domain":[2,200000],"nice":false},"axis":null},"y":{"datum":133,"type":"quantitative","scale":{"type":"log","domain":[0.0032,480],"nice":false},"axis":null},"text":{"field":"id","type":"nominal"}}},
  {"data":{"name":"labels"},"transform":[{"filter":"datum.panel=='F33'"}],"mark":{"type":"text","font":"Liberation Sans","fontWeight":"bold","fontSize":68,"align":"right","baseline":"alphabetic","color":"black"},"encoding":{"x":{"datum":120000,"type":"quantitative","scale":{"type":"log","domain":[2,200000],"nice":false},"axis":null},"y":{"datum":121,"type":"quantitative","scale":{"type":"log","domain":[0.0032,480],"nice":false},"axis":null},"text":{"field":"z","type":"nominal"}}}
 ]
},
{
 "width": 811, "height": 655,
 "resolve": {"axis": {"x": "independent", "y": "independent"}},
 "layer": [
  {"data":{"name":"labels"},"transform":[{"filter":"datum.panel=='F34'"}],"mark":{"type":"rect","fill":"white","stroke":"black","strokeWidth":10},"encoding":{"x":{"datum":2,"type":"quantitative","scale":{"type":"log","domain":[2,200000],"nice":false},"axis":null},"x2":{"datum":49.8},"y":{"datum":98.4,"type":"quantitative","scale":{"type":"log","domain":[0.0032,480],"nice":false},"axis":null},"y2":{"datum":480}}},
  {"data":{"name":"curves"},"transform":[{"filter":"datum.panel=='F34' && datum.comp=='sb'"}],"mark":{"type":"line","color":"#ff0000","strokeWidth":10,"clip":true,"strokeJoin":"round"},"encoding":{"x":{"field":"lam","type":"quantitative","scale":{"type":"log","domain":[2,200000],"nice":false},"axis":{"orient":"bottom","values":[10,100,1000,10000,100000],"ticks":false,"domain":false,"grid":false,"labelExpr":"'10'","labelFontSize":80,"labelAlign":"right","labelOffset":24,"labelBaseline":"alphabetic","labelPadding":109,"labelFlush":false,"labelOverlap":false,"title":"RestWavelength (um)","titleFontSize":82,"titleX":1318,"titleY":189,"titleAlign":"center","titleBaseline":"alphabetic","titleAngle":0}},"y":{"field":"flux","type":"quantitative","scale":{"type":"log","domain":[0.0032,480],"nice":false},"axis":{"orient":"left","values":[0.01,0.1,1,10,100],"format":".2f","ticks":false,"domain":false,"grid":false,"labelFontSize":84,"labelLimit":0,"labelPadding":35,"labelAlign":"right","labelBaseline":"middle","labelFlush":false,"labelOverlap":false,"title":null}}}},
  {"data":{"name":"curves"},"transform":[{"filter":"datum.panel=='F34' && datum.comp=='agn'"}],"mark":{"type":"line","color":"#0000ff","strokeWidth":10,"strokeDash":[52,47],"clip":true,"interpolate":"monotone"},"encoding":{"x":{"field":"lam","type":"quantitative","scale":{"type":"log","domain":[2,200000],"nice":false},"axis":{"orient":"bottom","values":[10,100,1000,10000,100000],"ticks":false,"domain":false,"grid":false,"labelExpr":"format(log(datum.value)/LN10,'.0f')","labelFontSize":60,"labelAlign":"left","labelOffset":26,"labelBaseline":"alphabetic","labelPadding":76,"labelFlush":false,"labelOverlap":false,"title":null}},"y":{"field":"flux","type":"quantitative","scale":{"type":"log","domain":[0.0032,480],"nice":false},"axis":{"orient":"left","values":[0.01,0.1,1,10,100],"labels":false,"domain":false,"grid":false,"tickSize":-34,"tickWidth":9,"tickColor":"black","zindex":1,"title":null}}}},
  {"data":{"name":"curves"},"transform":[{"filter":"datum.panel=='F34' && datum.comp=='tot'"}],"mark":{"type":"line","color":"#800080","strokeWidth":13,"clip":true,"strokeJoin":"round","interpolate":"monotone"},"encoding":{"x":{"field":"lam","type":"quantitative","scale":{"type":"log","domain":[2,200000],"nice":false},"axis":{"orient":"bottom","values":[10,100,1000,10000,100000],"labels":false,"domain":false,"grid":false,"tickSize":-34,"tickWidth":9,"tickColor":"black","zindex":1,"title":null}},"y":{"field":"flux","type":"quantitative","scale":{"type":"log","domain":[0.0032,480],"nice":false},"axis":{"orient":"left","values":[0.004,0.005,0.006,0.007,0.008,0.009,0.02,0.03,0.04,0.05,0.06,0.07,0.08,0.09,0.2,0.3,0.4,0.5,0.6,0.7,0.8,0.9,2,3,4,5,6,7,8,9,20,30,40,50,60,70,80,90,200,300,400],"labels":false,"domain":false,"grid":false,"tickSize":-19,"tickWidth":9,"tickColor":"black","zindex":1,"title":null}}}},
  {"data":{"name":"pts"},"transform":[{"filter":"datum.panel=='F34'"}],"mark":{"type":"rule","strokeWidth":6},"encoding":{"x":{"field":"lam","type":"quantitative","scale":{"type":"log","domain":[2,200000],"nice":false},"axis":{"orient":"bottom","values":[3,4,5,6,7,8,9,20,30,40,50,60,70,80,90,200,300,400,500,600,700,800,900,2000,3000,4000,5000,6000,7000,8000,9000,20000,30000,40000,50000,60000,70000,80000,90000],"labels":false,"domain":false,"grid":false,"tickSize":-19,"tickWidth":9,"tickColor":"black","zindex":1,"title":null}},"y":{"field":"lo","type":"quantitative","scale":{"type":"log","domain":[0.0032,480],"nice":false},"axis":{"orient":"right","values":[0.01,0.1,1,10,100],"labels":false,"domain":false,"grid":false,"tickSize":-34,"tickWidth":9,"tickColor":"black","zindex":1,"title":null}},"y2":{"field":"hi"},"color":{"field":"band","type":"nominal","scale":{"domain":["opt","fir"],"range":["#0000ff","#800080"]},"legend":null}}},
  {"data":{"name":"pts"},"transform":[{"filter":"datum.panel=='F34'"}],"mark":{"type":"rule","strokeWidth":6},"encoding":{"x":{"field":"xlo","type":"quantitative","scale":{"type":"log","domain":[2,200000],"nice":false},"axis":{"orient":"top","values":[10,100,1000,10000,100000],"labels":false,"domain":false,"grid":false,"tickSize":-34,"tickWidth":9,"tickColor":"black","zindex":1,"title":null}},"x2":{"field":"xhi"},"y":{"field":"lo","type":"quantitative","scale":{"type":"log","domain":[0.0032,480],"nice":false},"axis":{"orient":"right","values":[0.004,0.005,0.006,0.007,0.008,0.009,0.02,0.03,0.04,0.05,0.06,0.07,0.08,0.09,0.2,0.3,0.4,0.5,0.6,0.7,0.8,0.9,2,3,4,5,6,7,8,9,20,30,40,50,60,70,80,90,200,300,400],"labels":false,"domain":false,"grid":false,"tickSize":-19,"tickWidth":9,"tickColor":"black","zindex":1,"title":null}},"color":{"field":"band","type":"nominal","scale":{"domain":["opt","fir"],"range":["#0000ff","#800080"]},"legend":null}}},
  {"data":{"name":"pts"},"transform":[{"filter":"datum.panel=='F34'"}],"mark":{"type":"rule","strokeWidth":6},"encoding":{"x":{"field":"xlo","type":"quantitative","scale":{"type":"log","domain":[2,200000],"nice":false},"axis":{"orient":"top","values":[3,4,5,6,7,8,9,20,30,40,50,60,70,80,90,200,300,400,500,600,700,800,900,2000,3000,4000,5000,6000,7000,8000,9000,20000,30000,40000,50000,60000,70000,80000,90000],"labels":false,"domain":false,"grid":false,"tickSize":-19,"tickWidth":9,"tickColor":"black","zindex":1,"title":null}},"x2":{"field":"xhi"},"y":{"field":"hi","type":"quantitative","scale":{"type":"log","domain":[0.0032,480],"nice":false},"axis":null},"color":{"field":"band","type":"nominal","scale":{"domain":["opt","fir"],"range":["#0000ff","#800080"]},"legend":null}}},
  {"data":{"name":"pts"},"transform":[{"filter":"datum.panel=='F34'"}],"mark":{"type":"point","filled":true,"shape":"circle","size":1000,"opacity":1},"encoding":{"x":{"field":"lam","type":"quantitative","scale":{"type":"log","domain":[2,200000],"nice":false},"axis":null},"y":{"field":"flux","type":"quantitative","scale":{"type":"log","domain":[0.0032,480],"nice":false},"axis":null},"color":{"field":"band","type":"nominal","scale":{"domain":["opt","fir"],"range":["#0000ff","#800080"]},"legend":null}}},
  {"data":{"name":"labels"},"transform":[{"filter":"datum.panel=='F34'"}],"mark":{"type":"text","font":"Liberation Sans","fontWeight":"bold","fontSize":68,"align":"left","baseline":"alphabetic","color":"black"},"encoding":{"x":{"datum":2.42,"type":"quantitative","scale":{"type":"log","domain":[2,200000],"nice":false},"axis":null},"y":{"datum":133,"type":"quantitative","scale":{"type":"log","domain":[0.0032,480],"nice":false},"axis":null},"text":{"field":"id","type":"nominal"}}},
  {"data":{"name":"labels"},"transform":[{"filter":"datum.panel=='F34'"}],"mark":{"type":"text","font":"Liberation Sans","fontWeight":"bold","fontSize":68,"align":"right","baseline":"alphabetic","color":"black"},"encoding":{"x":{"datum":120000,"type":"quantitative","scale":{"type":"log","domain":[2,200000],"nice":false},"axis":null},"y":{"datum":121,"type":"quantitative","scale":{"type":"log","domain":[0.0032,480],"nice":false},"axis":null},"text":{"field":"z","type":"nominal"}}}
 ]
}
]
}
